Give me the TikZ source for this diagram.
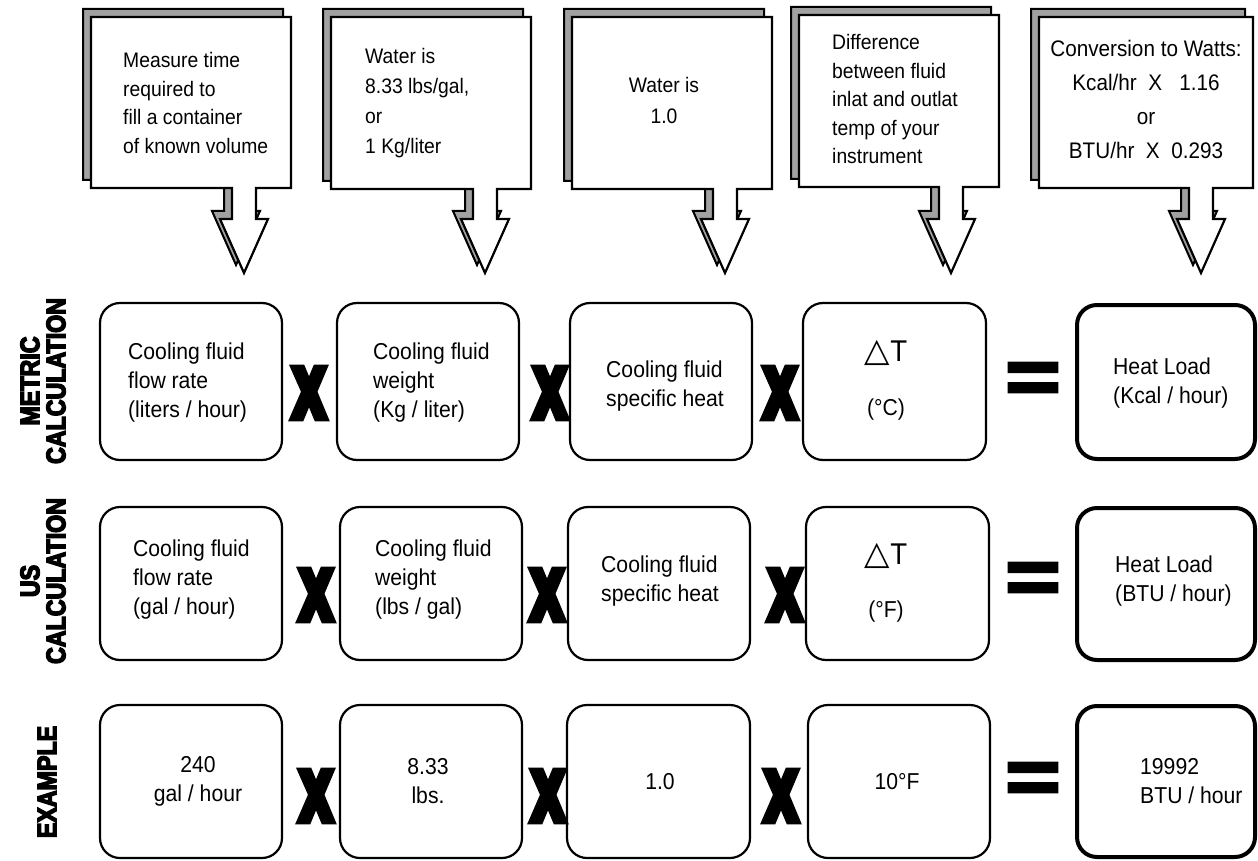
\documentclass[tikz,border=0pt]{standalone}
\usepackage{fontspec}
\setmainfont{Liberation Sans}[FakeStretch=0.92]
\newfontfamily\dejavu{DejaVu Sans}
\newfontfamily\Xfont{Liberation Sans}[FakeStretch=0.66,FakeBold=10]
\newfontfamily\Eqfont{Liberation Sans}[FakeStretch=1.25,FakeBold=4]
\newfontfamily\labfont{Liberation Sans}[FakeStretch=0.86,FakeBold=5]
\usetikzlibrary{fit}
\begin{document}
\begin{tikzpicture}[x=1pt,y=-1pt,
  box/.style={draw=black,line width=2.2pt,rounded corners=20pt,inner sep=0pt},
  resbox/.style={box,line width=4pt},
  txt/.style={inner sep=0pt,align=left,font=\fontsize{23}{29}\selectfont},
  ctxt/.style={txt,align=center},
  calltxt/.style={inner sep=0pt,align=left,font=\fontsize{21}{28.5}\selectfont},
  shadowc/.style={fill=black!37,draw=black,line width=2pt},
  mainc/.style={fill=white,draw=black,line width=2.2pt},
  timessign/.style={inner sep=0pt,font=\Xfont\bfseries\fontsize{72}{72}\selectfont},
  eqsign/.style={inner sep=0pt,font=\Eqfont\bfseries\fontsize{76}{76}\selectfont},
  sidelab/.style={inner sep=0pt,rotate=90,align=center,font=\labfont\bfseries\fontsize{27}{26}\selectfont},
  delta/.style={inner sep=0pt,font=\fontsize{21}{29}\selectfont}]
\useasboundingbox (0,0) rectangle (1258,861);
\fill[white] (0,0) rectangle (1258,861);

% ---- callouts ----
\foreach \L/\R/\T/\B/\A in {91/291/17/188/244, 331/531/17/189/485, 572/772/17/189/725, 799/999/15/187/951, 1039/1253/17/188/1201}{
  \draw[shadowc,shift={(-8,-8)}] (\L,\T) -- (\R,\T) -- (\R,\B) -- ({\A+12},\B) -- ({\A+12},219) -- ({\A+24},219) -- (\A,273) -- ({\A-24},219) -- ({\A-12},219) -- ({\A-12},\B) -- (\L,\B) -- cycle;
  \draw[mainc] (\L,\T) -- (\R,\T) -- (\R,\B) -- ({\A+12},\B) -- ({\A+12},219) -- ({\A+24},219) -- (\A,273) -- ({\A-24},219) -- ({\A-12},219) -- ({\A-12},\B) -- (\L,\B) -- cycle;
}
\node[calltxt,anchor=west] (c1) at (123,103) {Measure time\\required to\\fill a container\\of known volume};
\node[calltxt,anchor=west,font=\fontsize{21}{30}\selectfont] (c2) at (365,103) {Water is\\8.33 lbs/gal,\\or\\1 Kg/liter};
\node[calltxt,align=center,font=\fontsize{21}{31}\selectfont] (c3) at (664,100) {Water is\\1.0};
\node[calltxt,anchor=west] (c4) at (832,99) {Difference\\between fluid\\inlat and outlat\\temp of your\\instrument};
\node[calltxt,align=center,font=\fontsize{22.5}{34}\selectfont] (c5) at (1146,99) {Conversion to Watts:\\Kcal/hr\ \ X\ \ \ 1.16\\or\\BTU/hr\ \ X\ \ 0.293};

% ---- side labels ----
\node[sidelab] (lm) at (43,381) {METRIC\\CALCULATION};
\node[sidelab] (lu) at (43,581) {US\\CALCULATION};
\node[sidelab] (le) at (47,782) {EXAMPLE};

% ---- metric row ----
\node[box,fit={(100,303) (282,460)}] (m1) {};
\node[box,fit={(337,303) (519,460)}] (m2) {};
\node[box,fit={(570,303) (752,460)}] (m3) {};
\node[box,fit={(803,303) (986,460)}] (m4) {};
\node[resbox,fit={(1077,305) (1255,459)}] (m5) {};
\node[txt,anchor=west] (m1t) at (128,383) {Cooling fluid\\flow rate\\(liters / hour)};
\node[txt,anchor=west] (m2t) at (373,383) {Cooling fluid\\weight\\(Kg / liter)};
\node[txt,anchor=west] (m3t) at (606,386) {Cooling fluid\\specific heat};
\node[delta] (m4a) at (886,353) {{\dejavu\fontsize{33}{33}\selectfont △}{\fontsize{30}{30}\selectfont T}};
\node[txt] (m4b) at (886,410) {(°C)};
\node[txt,anchor=west] (m5t) at (1113,383) {Heat Load\\(Kcal / hour)};
\node[timessign] (mx1) at (309,393) {X};
\node[timessign] (mx2) at (550,393) {X};
\node[timessign] (mx3) at (780,393) {X};
\node[eqsign] (meq) at (1033,383) {=};

% ---- US row ----
\node[box,fit={(100,507) (282,660)}] (u1) {};
\node[box,fit={(340,507) (522,660)}] (u2) {};
\node[box,fit={(568,507) (750,660)}] (u3) {};
\node[box,fit={(806,507) (989,660)}] (u4) {};
\node[resbox,fit={(1077,508) (1255,660)}] (u5) {};
\node[txt,anchor=west] (u1t) at (133,580) {Cooling fluid\\flow rate\\(gal / hour)};
\node[txt,anchor=west] (u2t) at (375,580) {Cooling fluid\\weight\\(lbs / gal)};
\node[txt,anchor=west] (u3t) at (601,581) {Cooling fluid\\specific heat};
\node[delta] (u4a) at (886,556) {{\dejavu\fontsize{33}{33}\selectfont △}{\fontsize{30}{30}\selectfont T}};
\node[txt] (u4b) at (886,612) {(°F)};
\node[txt,anchor=west] (u5t) at (1115,581) {Heat Load\\(BTU / hour)};
\node[timessign] (ux1) at (316,595) {X};
\node[timessign] (ux2) at (547,595) {X};
\node[timessign] (ux3) at (785,595) {X};
\node[eqsign] (ueq) at (1033,583) {=};

% ---- example row ----
\node[box,fit={(100,705) (282,858)}] (e1) {};
\node[box,fit={(340,705) (522,858)}] (e2) {};
\node[box,fit={(567,705) (750,858)}] (e3) {};
\node[box,fit={(808,705) (990,858)}] (e4) {};
\node[resbox,fit={(1077,706) (1255,857)}] (e5) {};
\node[ctxt] (e1t) at (198,781) {240\\gal / hour};
\node[ctxt] (e2t) at (428,781) {8.33\\lbs.};
\node[ctxt] (e3t) at (660,782) {1.0};
\node[ctxt] (e4t) at (897,782) {10°F};
\node[txt,anchor=west] (e5t) at (1140,781) {19992\\BTU / hour};
\node[timessign] (ex1) at (316,796) {X};
\node[timessign] (ex2) at (548,796) {X};
\node[timessign] (ex3) at (781,796) {X};
\node[eqsign] (eeq) at (1033,783) {=};
\end{tikzpicture}
\end{document}
